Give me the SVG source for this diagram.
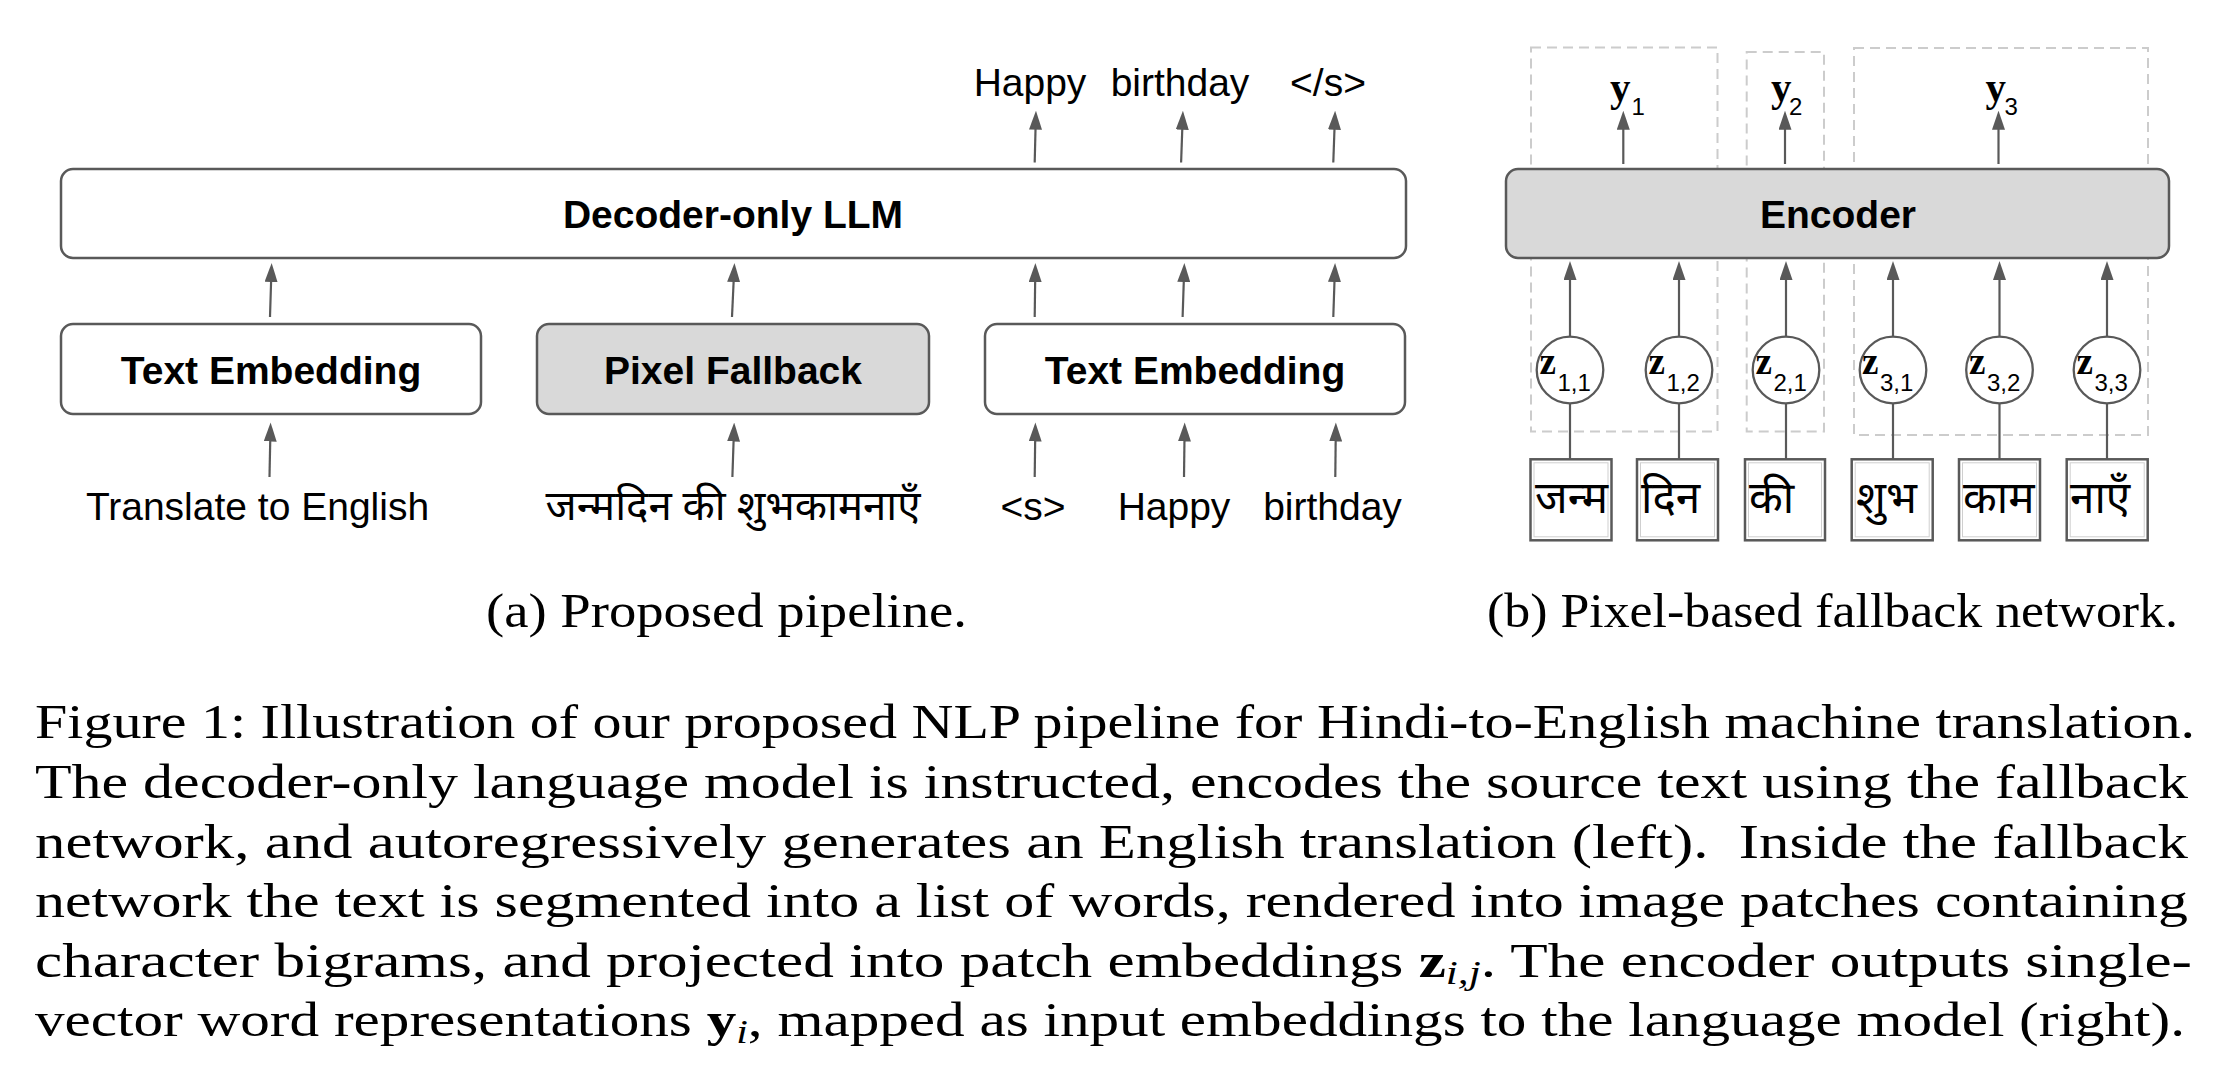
<svg xmlns="http://www.w3.org/2000/svg" width="2222" height="1090" viewBox="0 0 2222 1090">
<style>
.box{fill:#ffffff;stroke:#595959;stroke-width:2.5}
.gbox{fill:#d9d9d9;stroke:#595959;stroke-width:2.5}
.lbl{font-family:"Liberation Sans",Arial,Helvetica,sans-serif;font-weight:bold;font-size:39px;text-anchor:middle;fill:#000}
.tok{font-family:"Liberation Sans",Arial,Helvetica,sans-serif;font-size:39px;text-anchor:middle;fill:#000}
.hi{font-family:"Noto Sans Devanagari","Lohit Devanagari","Noto Sans","Liberation Sans",sans-serif;fill:#000}
.arr{stroke:#595959;stroke-width:2.2;fill:none;marker-end:url(#ah)}
.ln{stroke:#595959;stroke-width:2.2;fill:none}
.dash{fill:none;stroke:#cccccc;stroke-width:2;stroke-dasharray:10 6}
.circ{fill:#ffffff;stroke:#595959;stroke-width:2.3}
.patch{fill:#ffffff;stroke:#595959;stroke-width:2.5}
.pin{fill:none;stroke:#cfcfcf;stroke-width:1}
.mb{font-family:"Liberation Serif","Times New Roman",serif;font-weight:bold;fill:#000}
.sub{font-family:"Liberation Sans",Arial,sans-serif;font-size:24px;fill:#000}
.cap{font-family:"Liberation Serif","Times New Roman",serif;font-size:48px;fill:#000}
</style>
<defs>
<marker id="ah" markerUnits="userSpaceOnUse" markerWidth="19" markerHeight="13" viewBox="0 0 19 13" refX="4" refY="6.5" orient="auto">
<path d="M0,0 L19,6.5 L0,13 Z" fill="#595959"/>
</marker>
</defs>

<!-- dashed word groups (right) -->
<g id="word-groups">
<rect class="dash" x="1531" y="47.5" width="186.5" height="384"/>
<rect class="dash" x="1746.7" y="52" width="77.3" height="379.4"/>
<rect class="dash" x="1854" y="48" width="294" height="387"/>
</g>

<g id="connectors">
<path class="arr" d="M270,317 L271.2,278"/>
<path class="arr" d="M269.5,477 L270.3,437.5"/>
<path class="arr" d="M732,317 L733.8,278"/>
<path class="arr" d="M732.4,477 L733.7,437.5"/>
<path class="arr" d="M1034.7,317 L1035.2,278"/>
<path class="arr" d="M1182.6,317 L1183.9,278"/>
<path class="arr" d="M1333.3,317 L1334.6,278"/>
<path class="arr" d="M1034.7,477 L1035.2,437.5"/>
<path class="arr" d="M1184,477 L1184.5,437.5"/>
<path class="arr" d="M1335.3,477 L1335.7,437.5"/>
<path class="arr" d="M1034.7,162.5 L1035.6,125.7"/>
<path class="arr" d="M1181.1,162.5 L1182.4,125.7"/>
<path class="arr" d="M1333.3,162.5 L1334.6,125.7"/>
<path class="arr" d="M1623.3,164 L1623.3,125.7"/>
<path class="arr" d="M1785,164 L1785,125.7"/>
<path class="arr" d="M1998.5,164 L1998.5,125.7"/>
<path class="arr" d="M1570,336.7 L1570,276"/>
<path class="arr" d="M1679,336.7 L1679,276"/>
<path class="arr" d="M1786,336.7 L1786,276"/>
<path class="arr" d="M1893,336.7 L1893,276"/>
<path class="arr" d="M1999.5,336.7 L1999.5,276"/>
<path class="arr" d="M2107,336.7 L2107,276"/>
<path class="ln" d="M1570,403.3 L1570,459.3"/>
<path class="ln" d="M1679,403.3 L1679,459.3"/>
<path class="ln" d="M1786,403.3 L1786,459.3"/>
<path class="ln" d="M1893,403.3 L1893,459.3"/>
<path class="ln" d="M1999.5,403.3 L1999.5,459.3"/>
<path class="ln" d="M2107,403.3 L2107,459.3"/>
</g>

<!-- (a) pipeline -->
<g id="decoder">
<rect class="box" x="61" y="169" width="1345" height="89" rx="12"/>
<text class="lbl" x="733" y="227.5" font-size="40">Decoder-only LLM</text>
</g>
<g id="text-embedding-1">
<rect class="box" x="61" y="324" width="420" height="90" rx="12"/>
<text class="lbl" x="271" y="384">Text Embedding</text>
</g>
<g id="pixel-fallback">
<rect class="gbox" x="537" y="324" width="392" height="90" rx="12"/>
<text class="lbl" x="733" y="384">Pixel Fallback</text>
</g>
<g id="text-embedding-2">
<rect class="box" x="985" y="324" width="420" height="90" rx="12"/>
<text class="lbl" x="1195" y="384">Text Embedding</text>
</g>
<g id="outputs">
<text class="tok" x="1030" y="96">Happy</text>
<text class="tok" x="1180" y="96">birthday</text>
<text class="tok" x="1328" y="96">&lt;/s&gt;</text>
</g>
<g id="inputs">
<text class="tok" x="257.5" y="520">Translate to English</text>
<text class="hi" x="733" y="520" font-size="42" text-anchor="middle">जन्मदिन की शुभकामनाएँ</text>
<text class="tok" x="1033" y="520">&lt;s&gt;</text>
<text class="tok" x="1174" y="520">Happy</text>
<text class="tok" x="1332.5" y="520">birthday</text>
</g>

<!-- (b) fallback network -->
<g id="encoder">
<rect class="gbox" x="1506" y="169" width="663" height="89" rx="12"/>
<text class="lbl" x="1838" y="227.5">Encoder</text>
</g>
<g id="y-labels">
<text x="1610" y="101"><tspan class="mb" font-size="41">y</tspan><tspan class="sub" font-size="23" x="1631.5" y="115">1</tspan></text>
<text x="1771" y="101"><tspan class="mb" font-size="41">y</tspan><tspan class="sub" font-size="23" x="1789" y="115">2</tspan></text>
<text x="1985.5" y="101"><tspan class="mb" font-size="41">y</tspan><tspan class="sub" font-size="23" x="2004.5" y="115">3</tspan></text>
</g>
<g id="z11"><circle class="circ" cx="1570" cy="370" r="33.3"/><text x="1539.5" y="374.3"><tspan class="mb" font-size="37">z</tspan><tspan class="sub" x="1557.5" y="391">1,1</tspan></text></g>
<g id="z12"><circle class="circ" cx="1679" cy="370" r="33.3"/><text x="1648.5" y="374.3"><tspan class="mb" font-size="37">z</tspan><tspan class="sub" x="1666.5" y="391">1,2</tspan></text></g>
<g id="z21"><circle class="circ" cx="1786" cy="370" r="33.3"/><text x="1755.5" y="374.3"><tspan class="mb" font-size="37">z</tspan><tspan class="sub" x="1773.5" y="391">2,1</tspan></text></g>
<g id="z31"><circle class="circ" cx="1893" cy="370" r="33.3"/><text x="1862" y="374.3"><tspan class="mb" font-size="37">z</tspan><tspan class="sub" x="1880" y="391">3,1</tspan></text></g>
<g id="z32"><circle class="circ" cx="1999.5" cy="370" r="33.3"/><text x="1969" y="374.3"><tspan class="mb" font-size="37">z</tspan><tspan class="sub" x="1987" y="391">3,2</tspan></text></g>
<g id="z33"><circle class="circ" cx="2107" cy="370" r="33.3"/><text x="2076.5" y="374.3"><tspan class="mb" font-size="37">z</tspan><tspan class="sub" x="2094.5" y="391">3,3</tspan></text></g>

<g id="patch1"><rect class="patch" x="1530.5" y="459.3" width="81" height="81"/><rect class="pin" x="1534" y="462.8" width="74" height="74"/><text class="hi" x="1535" y="513" font-size="44">जन्म</text></g>
<g id="patch2"><rect class="patch" x="1637" y="459.3" width="81" height="81"/><rect class="pin" x="1640.5" y="462.8" width="74" height="74"/><text class="hi" x="1641" y="513" font-size="44">दिन</text></g>
<g id="patch3"><rect class="patch" x="1745" y="459.3" width="80" height="81"/><rect class="pin" x="1748.5" y="462.8" width="73" height="74"/><text class="hi" x="1749" y="513" font-size="44">की</text></g>
<g id="patch4"><rect class="patch" x="1851.7" y="459.3" width="81" height="81"/><rect class="pin" x="1855.2" y="462.8" width="74" height="74"/><text class="hi" x="1856" y="513" font-size="44">शुभ</text></g>
<g id="patch5"><rect class="patch" x="1959" y="459.3" width="81" height="81"/><rect class="pin" x="1962.5" y="462.8" width="74" height="74"/><text class="hi" x="1963" y="513" font-size="44">काम</text></g>
<g id="patch6"><rect class="patch" x="2066.7" y="459.3" width="81" height="81"/><rect class="pin" x="2070.2" y="462.8" width="74" height="74"/><text class="hi" x="2070" y="513" font-size="44">नाएँ</text></g>

<!-- captions -->
<g id="captions">
<text class="cap" x="486" y="627" textLength="481" lengthAdjust="spacingAndGlyphs">(a) Proposed pipeline.</text>
<text class="cap" x="1487" y="627" textLength="691" lengthAdjust="spacingAndGlyphs">(b) Pixel-based fallback network.</text>
<text class="cap" x="35" y="738" textLength="2160" lengthAdjust="spacingAndGlyphs">Figure 1: Illustration of our proposed NLP pipeline for Hindi-to-English machine translation.</text>
<text class="cap" x="35" y="798" textLength="2153" lengthAdjust="spacingAndGlyphs">The decoder-only language model is instructed, encodes the source text using the fallback</text>
<text class="cap" x="35" y="857.5" textLength="2153" lengthAdjust="spacingAndGlyphs" xml:space="preserve">network, and autoregressively generates an English translation (left).  Inside the fallback</text>
<text class="cap" x="35" y="917" textLength="2153" lengthAdjust="spacingAndGlyphs">network the text is segmented into a list of words, rendered into image patches containing</text>
<text class="cap" x="35" y="976.5" textLength="2157" lengthAdjust="spacingAndGlyphs">character bigrams, and projected into patch embeddings <tspan font-weight="bold">z</tspan><tspan font-style="italic" font-size="34" dy="7">i,j</tspan><tspan dy="-7">. The encoder outputs single-</tspan></text>
<text class="cap" x="35" y="1036" textLength="2150" lengthAdjust="spacingAndGlyphs">vector word representations <tspan font-weight="bold">y</tspan><tspan font-style="italic" font-size="34" dy="7">i</tspan><tspan dy="-7">, mapped as input embeddings to the language model (right).</tspan></text>
</g>
</svg>
